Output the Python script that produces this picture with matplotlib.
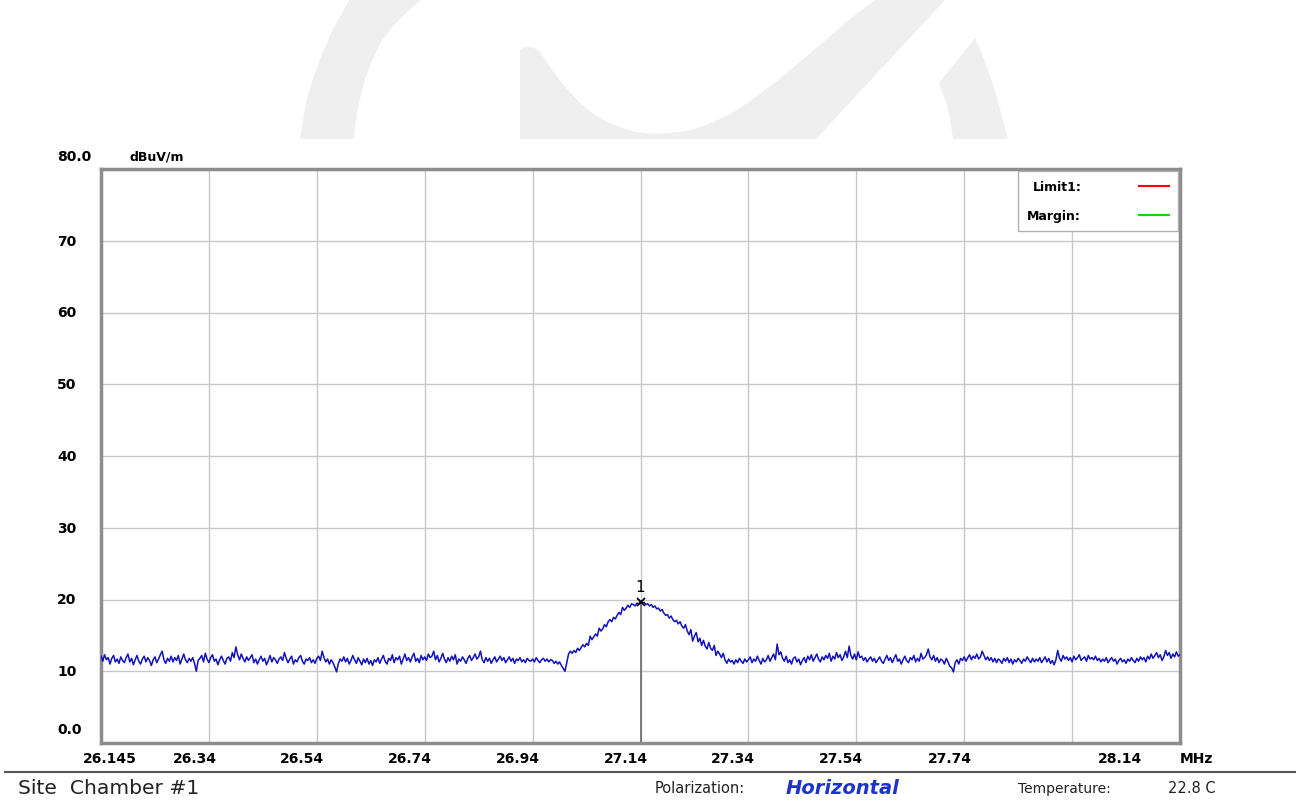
import numpy as np
import matplotlib
matplotlib.use("Agg")
import matplotlib.pyplot as plt
from matplotlib.lines import Line2D
from matplotlib.patches import Polygon
from matplotlib.transforms import Affine2D, offset_copy

# Trace (dBuV/m), 601 points from 26.145 to 28.145 MHz
level = [
    12.1, 11.4, 12.3, 11.6, 11.9, 11.0, 11.8, 12.2, 11.3, 11.7, 11.1, 12.0, 11.5, 11.2, 11.9, 12.4, 11.3, 11.8, 10.9, 11.6,
    12.2, 11.4, 11.0, 11.7, 12.1, 11.3, 11.9, 11.5, 10.8, 11.6, 12.0, 11.2, 11.7, 12.3, 12.8, 11.6, 11.1, 11.8, 11.4, 12.1,
    11.3, 11.9, 11.5, 12.2, 11.0, 11.7, 12.4, 11.6, 11.2, 11.8, 11.4, 11.9, 11.1, 10.0, 11.5, 11.8, 12.2, 11.3, 12.5, 11.7,
    11.2, 11.9, 12.3, 11.4, 11.7, 10.9, 11.6, 12.1, 11.5, 11.0, 11.8, 12.0, 11.4, 12.6, 11.9, 13.4, 12.3, 11.6, 12.4, 11.8,
    11.3, 12.0, 11.5, 11.9, 12.3, 11.2, 11.7, 11.0, 11.6, 12.1, 11.4, 11.8, 10.9, 11.5, 12.2, 11.3, 11.9, 11.6, 11.1, 11.7,
    12.0, 11.5, 12.6, 11.8, 11.2, 11.7, 12.1, 11.0, 11.6, 11.3, 11.9, 12.2, 11.4, 11.0, 11.7, 11.5, 11.9, 11.2, 11.6, 11.1,
    11.8, 12.1, 11.5, 12.8, 11.9, 11.3, 11.7, 11.0, 11.6, 11.2, 10.6, 9.9, 11.1, 11.7, 11.4, 12.0, 11.3, 11.8, 11.0, 11.5,
    12.2, 11.6, 11.1, 11.9, 11.4, 10.9, 11.7, 11.2, 11.8, 11.0, 11.5, 10.8, 11.6, 11.3, 11.9, 11.1, 11.7, 12.2, 11.4, 11.0,
    11.8, 11.5, 12.3, 11.2, 11.9, 11.6, 12.1, 11.0, 11.7, 12.4, 11.5, 11.9, 11.3, 12.0, 12.5, 11.4, 11.8, 11.2, 12.2, 11.6,
    12.0, 11.5, 12.4, 11.9, 12.1, 12.8, 11.6, 12.2, 11.3, 11.8, 12.5, 11.7, 11.2, 11.9, 11.4, 12.1, 11.6, 12.3, 11.0, 11.7,
    11.4, 12.0, 11.6, 11.1, 11.8, 12.2, 11.5, 11.9, 12.4, 11.7, 12.0, 12.8, 11.6, 11.2, 11.9, 11.4, 11.8, 11.1, 11.6, 12.0,
    11.3, 11.7, 12.1, 11.5, 11.9, 11.2, 11.6, 12.0, 11.4, 11.8, 11.1, 11.7, 11.5, 11.9, 11.3, 11.6, 11.2, 11.8, 11.5, 11.4,
    11.7, 11.3, 11.9, 11.5, 11.2, 11.6, 11.8, 11.4, 11.7, 11.3, 11.6, 11.5, 11.1, 11.4, 11.0, 11.3, 10.8, 10.4, 10.0, 11.2,
    12.4, 12.8, 12.5, 12.9, 12.6, 13.2, 12.9, 13.3, 13.7, 13.4, 13.9, 13.6, 14.9, 14.4, 14.8, 15.2, 14.9, 16.0, 15.6, 15.9,
    16.5, 16.2, 16.9, 17.2, 16.9, 17.5, 17.3, 17.8, 18.2, 17.9, 18.9, 18.5, 18.8, 19.2, 18.9, 19.4, 19.3, 19.1, 19.5, 19.4,
    19.7, 19.5, 19.6, 19.3, 19.4, 19.1, 19.3, 18.9, 19.1, 18.7, 18.8, 18.4, 18.6, 18.1, 17.8, 17.9, 17.4, 17.7, 17.2, 16.9,
    17.1, 16.6, 16.9, 16.3, 16.0, 16.5, 15.6, 15.1, 15.8, 14.2, 14.9, 15.4, 14.1, 14.6, 13.6, 14.3, 13.5, 13.1, 14.0, 13.2,
    12.9, 13.6, 12.2, 12.8, 12.4, 11.9, 12.5, 11.6, 11.1, 11.7, 11.3, 11.5, 11.0, 11.6, 11.2, 11.8, 11.4, 11.1, 11.7, 11.3,
    11.6, 12.0, 11.2, 11.7, 11.4, 12.1, 11.5, 11.0, 11.8, 11.3, 11.6, 12.2, 11.4, 11.9, 12.4, 11.6, 13.8, 12.3, 12.7, 11.8,
    11.4, 12.1, 11.2, 11.6, 11.0, 11.8, 12.0, 11.3, 11.7, 10.9, 11.5, 11.9, 11.2, 12.1, 11.6, 12.3, 11.4, 11.9, 12.4, 11.7,
    11.3, 12.0, 11.6, 12.2, 11.8, 12.5, 11.4, 12.1, 11.7, 12.6, 11.9, 12.3, 11.5, 12.0, 12.8, 11.9, 13.5, 12.2, 11.7, 12.4,
    11.6, 12.7, 11.9, 12.1, 11.5, 11.9, 11.3, 11.7, 12.0, 11.4, 11.8, 11.2, 11.6, 12.0, 11.4, 11.1, 11.7, 12.2, 11.5, 11.9,
    11.2, 11.8, 12.3, 11.4, 11.7, 11.0, 11.6, 12.1, 11.5, 11.2, 11.9, 11.6, 12.2, 11.3, 11.8, 11.4, 12.5, 11.7, 11.9, 12.3,
    13.1, 12.0, 11.6, 12.2, 11.4, 11.9, 11.2, 11.7, 11.5, 11.0, 11.8, 11.3, 10.7, 10.5, 9.9, 11.2, 11.6, 11.0, 11.8, 11.5,
    12.0, 11.4, 11.9, 12.3, 11.6, 12.1, 11.8, 12.4, 11.7, 12.0, 12.8, 12.2, 11.6, 12.0, 11.5, 11.9, 11.3, 11.8, 11.2, 11.7,
    11.5, 11.1, 11.8, 11.4, 11.9, 11.2, 11.7, 11.0, 11.6, 11.3, 11.8, 11.5, 11.1, 11.7, 11.4, 12.0, 11.6, 11.2, 11.8, 11.3,
    11.7, 11.4, 11.9, 11.2, 11.6, 12.0, 11.3, 11.8, 11.1, 11.5, 10.9, 11.6, 12.9, 11.8, 11.4, 12.2, 11.7, 12.0, 11.5, 11.9,
    11.3, 12.1, 11.6, 11.9, 12.3, 11.5, 11.8, 12.0, 11.4, 12.2, 11.7, 11.9, 11.6, 12.1, 11.5, 11.8, 11.3, 11.7, 11.4, 11.9,
    11.2, 11.6, 11.9, 11.4, 11.7, 11.0, 11.5, 11.8, 11.3, 11.6, 11.1, 11.7, 11.4, 11.9, 11.5, 11.2, 11.8, 11.4, 12.0, 11.6,
    11.9, 11.3, 12.1, 11.7, 12.4, 11.8, 12.2, 12.6, 11.9, 12.3, 11.5, 12.0, 12.9, 12.2, 12.6, 11.8, 12.4, 12.0, 12.7, 12.1,
    12.3,
]
f_start, f_stop = 26.145, 28.145
freq = np.linspace(f_start, f_stop, len(level))

# Marker 1
peak_freq = 27.145
peak_level = 19.7

# Axes / ticks
y_vals = [0, 10, 20, 30, 40, 50, 60, 70, 80]
y_text = ["0.0", "10", "20", "30", "40", "50", "60", "70", "80.0"]
x_grid = [26.345, 26.545, 26.745, 26.945, 27.145, 27.345, 27.545, 27.745, 27.945]
x_label_pos = [26.162, 26.319, 26.518, 26.718, 26.918, 27.118, 27.316, 27.517, 27.719, 28.034]
x_text = ["26.145", "26.34", "26.54", "26.74", "26.94", "27.14", "27.34", "27.54", "27.74", "28.14"]

W, H = 1300, 804
fig = plt.figure(figsize=(W / 100, H / 100), dpi=100, facecolor="white")

# watermark logo at the top (pixel coords, y from top)
px = Affine2D().scale(1 / W, -1 / H).translate(0, 1) + fig.transFigure
wm = "#efefef"
band_left = [(300, 140), (304, 115), (307, 100), (313, 80), (320, 60), (333, 30), (350, 0),
             (422, 0), (407, 13), (393, 27), (381, 43), (373, 60), (365, 80), (360, 100), (356, 120), (354, 140)]
middle = [(520, 140), (520, 51), (524, 48), (532, 48), (538, 51), (545, 60), (555, 75), (567, 90),
          (580, 104), (593, 115), (607, 123), (620, 128), (636, 133), (653, 135), (670, 134), (687, 132),
          (704, 127), (720, 120), (737, 111), (753, 100), (777, 82), (800, 63), (820, 46), (845, 24),
          (876, 0), (946, 0), (816, 140)]
band_right = [(953, 140), (950, 120), (946, 103), (939, 84), (975, 39), (984, 60), (993, 85),
              (1000, 110), (1004, 125), (1008, 140)]
for pts in (band_left, middle, band_right):
    fig.add_artist(Polygon(pts, closed=True, transform=px, facecolor=wm, edgecolor="none", zorder=0))

ax = fig.add_axes([101 / W, 1 - 744 / H, (1180 - 101) / W, (744 - 170) / H])
ax.set_xlim(f_start, f_stop)
ax.set_ylim(0, 80)

# grid
ax.set_xticks(x_grid, minor=True)
ax.set_yticks(y_vals[1:-1], minor=True)
ax.grid(which="minor", color="#c8c8c8", lw=1)
ax.tick_params(which="minor", length=0)

ax.set_xticks(x_label_pos, x_text)
ax.tick_params(axis="x", which="major", length=0, pad=6, labelsize=10)
for lab in ax.get_xticklabels():
    lab.set_fontweight("bold")
ax.set_yticks([])

for s in ax.spines.values():
    s.set_color("#8c8c8c")
    s.set_linewidth(2.5)

# y labels as text, left aligned
ytr = ax.get_yaxis_transform()
for v, s in zip(y_vals, y_text):
    dy = 0
    if v == 80:
        dy = 9.5
    elif v == 0:
        dy = 10
    tr = offset_copy(ytr, fig=fig, x=0, y=dy, units="points")
    ax.text(-44 / 1079, v, s, transform=tr, ha="left", va="center", fontsize=10, fontweight="bold")
ax.text(29 / 1079, 1, "dBuV/m", transform=offset_copy(ax.transAxes, fig=fig, y=9.5, units="points"),
        ha="left", va="center", fontsize=9, fontweight="bold")
ax.text(1.0, 0, "MHz", transform=offset_copy(ax.transAxes, fig=fig, x=0, y=-10.5, units="points"),
        ha="left", va="center", fontsize=10, fontweight="bold")

# trace
ax.plot(freq, level, color="#1212bb", lw=1.1, zorder=3)

# marker 1
ax.plot([peak_freq, peak_freq], [0, peak_level], color="#6a6a6a", lw=1.2, zorder=2)
ax.plot(peak_freq, peak_level, marker="x", ms=6, mew=1.3, color="black", zorder=4)
ax.annotate("1", (peak_freq, peak_level), xytext=(0, 11), textcoords="offset points",
            ha="center", va="center", fontsize=11)

# legend
handles = [Line2D([], [], color="red", lw=1.5), Line2D([], [], color="#22cc22", lw=1.5)]
leg = ax.legend(handles, ["Limit1:", "Margin:"], loc="upper right", markerfirst=False,
                frameon=True, fancybox=False, framealpha=1, edgecolor="#b0b0b0",
                handlelength=2.4, handletextpad=4.6, labelspacing=1.25, borderaxespad=0.15,
                borderpad=0.75, prop={"weight": "bold", "size": 9})
leg.get_frame().set_linewidth(1)

# footer
fig.add_artist(Line2D([5 / W, 1295 / W], [1 - 773 / H, 1 - 773 / H], color="#555555", lw=1.5))
fy = 1 - 789 / H
fig.text(18 / W, fy, "Site  Chamber #1", fontsize=14.6, va="center", color="#222222")
fig.text(655 / W, fy, "Polarization:", fontsize=10.5, va="center", color="#222222")
fig.text(786 / W, fy, "Horizontal", fontsize=14, va="center", color="#1c34c8",
         fontweight="bold", fontstyle="italic")
fig.text(1018 / W, fy, "Temperature:", fontsize=10, va="center", color="#222222")
fig.text(1168 / W, fy, "22.8 C", fontsize=10.5, va="center", color="#222222")

fig.savefig("out.png", dpi=100, facecolor="white")
